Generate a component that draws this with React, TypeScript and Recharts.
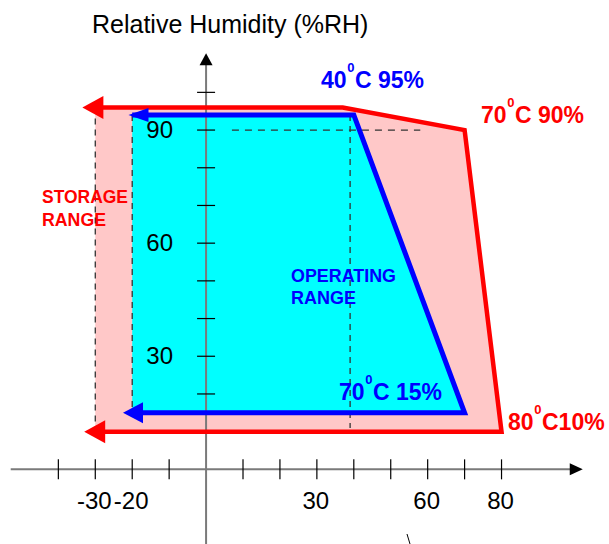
import React from "react";
import { Area, ComposedChart, Line, Scatter, XAxis, YAxis } from "recharts";

// storage range (red): temperature in °C, relative humidity bounds in %RH
const storageTemp = [-30, 37, 70, 80];
const storageHigh = [96, 96, 90, 10];
const storageLow = [10, 10, 10, 10];

// operating range (blue)
const operatingTemp = [-20, 40, 70];
const operatingHigh = [94, 94, 15];
const operatingLow = [15, 15, 15];

// arrow tips on the left ends of the ranges
const storageArrowTemp = [-33.5, -33];
const storageArrowRH = [96, 10];
const operatingArrowTemp = [-21, -22.5];
const operatingArrowRH = [94, 15];

// dashed guides
const guideTemp = [-30, -20, 39];
const guideLow = [10, 15, 11];
const guideHigh = [96, 94, 94];
const guideRH = 90;
const guideSpan = [7, 58];

// axes
const xTicks = [-40, -30, -20, -10, 10, 20, 30, 40, 50, 60, 70, 80];
const xTickLabels = [-30, -20, 30, 60, 80];
const yTicks = [20, 30, 40, 50, 60, 70, 80, 90, 100];
const yTickLabels = [30, 60, 90];
const xAxisSpan = [-52.9, 99];
const yAxisSpan = [-20, 108];
const xArrowTip = 102;
const yArrowTip = 110.4;

const tempDomain = [-55.8, 109.1];
const rhDomain = [-19.8, 124.5];

const FONT = "'Liberation Sans', Arial, sans-serif";
const RED = "#ff0000";
const BLUE = "#0000ff";

const band = (t: number[], lo: number[], hi: number[]) =>
  t.map((v, i) => ({ t: v, band: [lo[i], hi[i]] }));
const outline = (t: number[], lo: number[], hi: number[]) => [
  ...t.map((v, i) => ({ t: v, rh: hi[i] })),
  ...t.map((v, i) => ({ t: v, rh: lo[i] })).reverse(),
];
const points = (t: number[], rh: number[]) => t.map((v, i) => ({ t: v, rh: rh[i] }));

const leftArrow = (color: string, len: number, half: (p: any) => number) => (p: any) => (
  <polygon
    points={`${p.cx},${p.cy} ${p.cx + len},${p.cy - half(p)} ${p.cx + len},${p.cy + half(p)}`}
    fill={color}
  />
);

const xTickShape = (p: any) => (
  <line x1={p.cx} y1={p.cy - 10} x2={p.cx} y2={p.cy + 10} stroke="#000" strokeWidth={1.2} />
);
const yTickShape = (p: any) => (
  <line x1={p.cx - 9} y1={p.cy} x2={p.cx + 9} y2={p.cy} stroke="#000" strokeWidth={1.2} />
);
const xLabelShape = (p: any) => (
  <text x={p.cx - 1} y={p.cy + 40} textAnchor="middle" fontSize={24} fontFamily={FONT} fill="#000">
    {p.payload.t}
  </text>
);
const yLabelShape = (p: any) => (
  <text x={p.cx - 33} y={p.cy + 8} textAnchor="end" fontSize={24} fontFamily={FONT} fill="#000">
    {p.payload.rh}
  </text>
);
const rightArrow = (p: any) => (
  <polygon points={`${p.cx},${p.cy} ${p.cx - 13},${p.cy - 6} ${p.cx - 13},${p.cy + 6}`} fill="#000" />
);
const upArrow = (p: any) => (
  <polygon points={`${p.cx},${p.cy} ${p.cx - 6.5},${p.cy + 12} ${p.cx + 6.5},${p.cy + 12}`} fill="#000" />
);

// "70⁰C 90%" style label: two digits, a raised 0, then the rest
const FS = 23;
const SUP = 13;
const Degree = ({ x, y, color, first, rest }: any) => {
  const common = { fill: color, fontFamily: FONT, fontWeight: "bold" as const };
  const sx = x + 1.112 * FS + 0.6;
  const rx = sx + 0.556 * SUP + 0.6;
  return (
    <g>
      <text x={x} y={y} fontSize={FS} {...common}>
        {first}
      </text>
      <text x={sx} y={y - 16} fontSize={SUP} {...common}>
        0
      </text>
      <text x={rx} y={y} fontSize={FS} {...common}>
        {rest}
      </text>
    </g>
  );
};

const plain = { dot: false, activeDot: false, isAnimationActive: false } as const;

export default function App() {
  return (
    <div style={{ position: "absolute", left: 0, top: 0, width: 609, height: 544 }}>
      <ComposedChart width={609} height={544} margin={{ top: 0, right: 0, bottom: 0, left: 0 }}>
        <XAxis dataKey="t" type="number" domain={tempDomain} allowDataOverflow hide />
        <YAxis type="number" domain={rhDomain} allowDataOverflow hide />

        <Area
          data={band(storageTemp, storageLow, storageHigh)}
          dataKey="band"
          type="linear"
          fill="#ffc8c8"
          fillOpacity={1}
          stroke="none"
          isAnimationActive={false}
        />
        <Area
          data={band(operatingTemp, operatingLow, operatingHigh)}
          dataKey="band"
          type="linear"
          fill="#00ffff"
          fillOpacity={1}
          stroke="none"
          isAnimationActive={false}
        />

        {guideTemp.map((t, i) => (
          <Line
            key={`gv${i}`}
            data={[
              { t, rh: guideHigh[i] },
              { t, rh: guideLow[i] },
            ]}
            dataKey="rh"
            stroke="#333"
            strokeWidth={1.3}
            strokeDasharray="6 5"
            {...plain}
          />
        ))}
        <Line
          data={guideSpan.map((t) => ({ t, rh: guideRH }))}
          dataKey="rh"
          stroke="#333"
          strokeWidth={1.3}
          strokeDasharray="7 6"
          {...plain}
        />

        <Line
          data={xAxisSpan.map((t) => ({ t, rh: 0 }))}
          dataKey="rh"
          stroke="#7a7a7a"
          strokeWidth={2}
          {...plain}
        />
        <Line
          data={yAxisSpan.map((rh) => ({ t: 0, rh }))}
          dataKey="rh"
          stroke="#7a7a7a"
          strokeWidth={2}
          {...plain}
        />

        <Line
          data={outline(storageTemp, storageLow, storageHigh)}
          dataKey="rh"
          stroke={RED}
          strokeWidth={4.5}
          {...plain}
        />
        <Line
          data={outline(operatingTemp, operatingLow, operatingHigh)}
          dataKey="rh"
          stroke={BLUE}
          strokeWidth={5}
          {...plain}
        />

        <Scatter data={xTicks.map((t) => ({ t, rh: 0 }))} dataKey="rh" shape={xTickShape} isAnimationActive={false} />
        <Scatter data={yTicks.map((rh) => ({ t: 0, rh }))} dataKey="rh" shape={yTickShape} isAnimationActive={false} />
        <Scatter data={xTickLabels.map((t) => ({ t, rh: 0 }))} dataKey="rh" shape={xLabelShape} isAnimationActive={false} />
        <Scatter data={yTickLabels.map((rh) => ({ t: 0, rh }))} dataKey="rh" shape={yLabelShape} isAnimationActive={false} />
        <Scatter data={[{ t: xArrowTip, rh: 0 }]} dataKey="rh" shape={rightArrow} isAnimationActive={false} />
        <Scatter data={[{ t: 0, rh: yArrowTip }]} dataKey="rh" shape={upArrow} isAnimationActive={false} />

        <Scatter
          data={points(storageArrowTemp, storageArrowRH)}
          dataKey="rh"
          shape={leftArrow(RED, 21, () => 11.5)}
          isAnimationActive={false}
        />
        <Scatter
          data={points(operatingArrowTemp, operatingArrowRH)}
          dataKey="rh"
          shape={leftArrow(BLUE, 20, (p) => (p.payload.rh > 50 ? 7 : 10.5))}
          isAnimationActive={false}
        />
      </ComposedChart>

      {/* annotations, drawn over the chart */}
      <svg
        width={609}
        height={544}
        style={{ position: "absolute", left: 0, top: 0, pointerEvents: "none" }}
      >
        <text x={92} y={33} fontSize={25} fontFamily={FONT} fill="#000">
          Relative Humidity (%RH)
        </text>
        <Degree x={321} y={88} color={BLUE} first="40" rest="C 95%" />
        <Degree x={481} y={123} color={RED} first="70" rest="C 90%" />
        <Degree x={508} y={430} color={RED} first="80" rest="C10%" />
        <Degree x={339} y={400} color={BLUE} first="70" rest="C 15%" />

        <text fontFamily={FONT} fontWeight="bold" fontSize={18} fill={RED}>
          <tspan x={42} y={203} textLength={86} lengthAdjust="spacingAndGlyphs">
            STORAGE
          </tspan>
          <tspan x={42} y={226} textLength={64} lengthAdjust="spacingAndGlyphs">
            RANGE
          </tspan>
        </text>
        <text fontFamily={FONT} fontWeight="bold" fontSize={18} fill={BLUE}>
          <tspan x={291} y={282} textLength={105} lengthAdjust="spacingAndGlyphs">
            OPERATING
          </tspan>
          <tspan x={291} y={304} textLength={65} lengthAdjust="spacingAndGlyphs">
            RANGE
          </tspan>
        </text>
        <line x1={407} y1={534} x2={410} y2={544} stroke="#000" strokeWidth={1} />
      </svg>
    </div>
  );
}
